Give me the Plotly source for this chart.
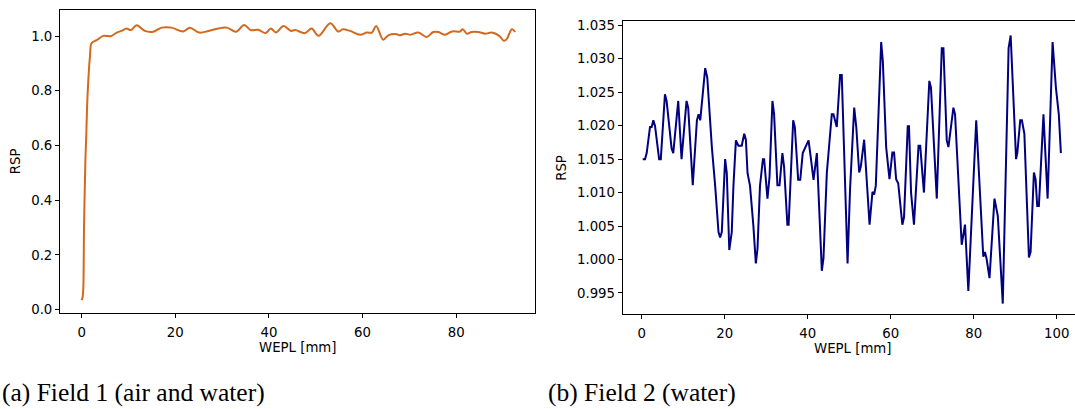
import plotly.graph_objects as go

# Field 1 (air and water)
wepl1 = [0.0, 0.2, 0.35, 0.5, 0.8, 0.95, 1.2, 1.56, 1.77, 2.13, 3.2, 4.6, 5.7, 6.3, 7.5, 8.5, 9.6, 10.5,
         11.75, 13.5, 15.3, 17.1, 19.2, 21.7, 23.1, 25.1, 27.1, 29.2, 31.0, 33.0, 34.7, 36.1, 37.7,
         39.3, 40.4, 41.5, 43.1, 44.7, 45.6, 47.7, 49.1, 50.6, 53.1, 54.8, 55.8, 57.3, 59.5, 60.9,
         62.0, 62.9, 64.4, 65.5, 67.3, 68.0, 69.1, 70.2, 71.9, 73.7, 75.1, 76.2, 77.6, 79.1, 80.8,
         81.4, 82.3, 83.3, 84.7, 86.2, 87.6, 89.2, 90.2, 90.8, 91.9, 92.6]
rsp1 = [0.035, 0.045, 0.08, 0.30, 0.55, 0.62, 0.76, 0.88, 0.925, 0.975, 0.985, 1.001, 1.0, 1.0, 1.013,
        1.019, 1.028, 1.022, 1.040, 1.019, 1.016, 1.031, 1.031, 1.017, 1.031, 1.013, 1.019, 1.028,
        1.031, 1.016, 1.041, 1.022, 1.023, 1.011, 1.028, 1.013, 1.037, 1.019, 1.022, 1.011, 1.028,
        1.001, 1.047, 1.017, 1.025, 1.019, 1.005, 1.013, 1.013, 1.037, 0.987, 1.003, 1.007, 1.003,
        1.009, 1.005, 1.013, 0.997, 1.015, 1.015, 1.005, 1.017, 1.017, 1.025, 1.009, 1.015, 1.015,
        1.009, 1.013, 1.001, 0.983, 0.989, 1.025, 1.015]

# Field 2 (water)
wepl2 = [0.24, 0.8, 1.2, 2.0, 2.4, 2.8, 3.2, 4.2, 4.6, 5.6, 6.0, 7.2, 7.6, 8.8, 9.6, 10.8, 11.2, 12.3,
         13.3, 13.7, 14.1, 15.3, 15.8, 16.9, 17.7, 18.5, 18.9, 19.3, 20.1, 20.5, 21.1, 21.7, 22.1,
         22.7, 23.3, 24.1, 24.7, 25.1, 25.5, 26.1, 26.9, 27.5, 27.9, 28.5, 29.2, 29.5, 30.3, 30.8,
         31.5, 31.9, 32.7, 33.2, 33.9, 34.3, 35.1, 35.4, 36.5, 36.9, 37.7, 38.2, 38.8, 39.5, 40.2,
         40.7, 41.4, 42.2, 43.4, 43.8, 44.6, 45.2, 45.8, 46.2, 47.0, 47.8, 48.2, 49.6, 50.2, 51.2,
         51.7, 52.4, 52.8, 53.6, 54.1, 54.9, 55.6, 56.0, 56.4, 57.7, 58.1, 58.9, 59.7, 60.4, 60.8,
         61.3, 61.8, 62.8, 63.2, 64.1, 64.4, 64.9, 65.6, 66.7, 67.1, 68.0, 69.3, 69.7, 71.1, 72.3,
         72.7, 73.5, 73.9, 75.1, 75.5, 77.1, 77.9, 78.7, 80.6, 82.3, 82.7, 83.1, 83.8, 85.0, 85.8,
         87.0, 88.4, 88.9, 90.2, 90.5, 91.2, 91.6, 92.2, 93.3, 93.7, 94.5, 94.9, 95.3, 95.7, 96.8,
         97.8, 99.0, 99.8, 100.5, 101.0]
rsp2 = [1.015, 1.015, 1.0159, 1.0198, 1.0198, 1.0208, 1.020, 1.015, 1.015, 1.0247, 1.0237, 1.0166,
        1.0159, 1.0237, 1.015, 1.0237, 1.0227, 1.0111, 1.0208, 1.0217, 1.0208, 1.0286, 1.0272,
        1.0168, 1.011, 1.0041, 1.0033, 1.0041, 1.015, 1.0129, 1.0014, 1.0041, 1.011, 1.0178, 1.017,
        1.017, 1.0188, 1.0179, 1.0129, 1.011, 1.0051, 0.9994, 1.0016, 1.011, 1.015, 1.015, 1.0091,
        1.0124, 1.0237, 1.0217, 1.0111, 1.0111, 1.0159, 1.0139, 1.0052, 1.0052, 1.0208, 1.0198,
        1.0119, 1.0119, 1.0159, 1.0168, 1.0178, 1.0154, 1.0119, 1.0159, 0.9983, 1.0002, 1.0129,
        1.0173, 1.0217, 1.0217, 1.0198, 1.0276, 1.0276, 0.9994, 1.0105, 1.0227, 1.0198, 1.013,
        1.0139, 1.0179, 1.0124, 1.0052, 1.0101, 1.0097, 1.011, 1.0325, 1.0296, 1.0168, 1.012,
        1.016, 1.016, 1.012, 1.0114, 1.0052, 1.0063, 1.0199, 1.0199, 1.01, 1.0052, 1.017, 1.017,
        1.01, 1.0267, 1.0257, 1.0091, 1.0316, 1.0316, 1.0178, 1.0168, 1.0227, 1.0217, 1.0022,
        1.0052, 0.9953, 1.0208, 1.0004, 1.0011, 1.0001, 0.9972, 1.0091, 1.0065, 0.9934, 1.0316,
        1.0335, 1.015, 1.0159, 1.0208, 1.0208, 1.0188, 1.0003, 1.0011, 1.013, 1.012, 1.008, 1.008,
        1.0217, 1.0091, 1.0325, 1.0257, 1.0217, 1.0159]

x_title = "WEPL [mm]"
y_title = "RSP"
captions = ["(a) Field 1 (air and water)", "(b) Field 2 (water)"]

W, H = 1075, 409
tickfont = dict(family="DejaVu Sans", size=13.3, color="black")

fig = go.Figure()
fig.add_trace(go.Scatter(x=wepl1, y=rsp1, mode="lines", line=dict(color="#D2691E", width=2),
                         line_shape="spline", xaxis="x", yaxis="y", showlegend=False))
fig.add_trace(go.Scatter(x=wepl2, y=rsp2, mode="lines", line=dict(color="#000080", width=2),
                         xaxis="x2", yaxis="y2", showlegend=False))

def px_x(p):
    return p / W

def px_y(p):
    return 1 - p / H

common = dict(showgrid=False, zeroline=False, showline=True, linecolor="black", linewidth=1,
              ticks="outside", ticklen=4, tickwidth=1, tickcolor="black", tickfont=tickfont)

fig.update_layout(
    width=W, height=H, margin=dict(l=0, r=0, t=0, b=0),
    paper_bgcolor="white", plot_bgcolor="white",
    xaxis=dict(domain=[px_x(60), px_x(535.3)], range=[-4.63, 96.9], tickvals=[0, 20, 40, 60, 80],
               mirror=True, anchor="y", ticklabelstandoff=3, **common),
    yaxis=dict(domain=[px_y(315.3), px_y(6.7)], range=[-0.012, 1.097],
               tickvals=[0.0, 0.2, 0.4, 0.6, 0.8, 1.0], tickformat=".1f", mirror=True, anchor="x", **common),
    xaxis2=dict(domain=[px_x(622.7), 1.0], range=[-4.58, 104.4], tickvals=[0, 20, 40, 60, 80, 100],
                mirror=True, anchor="y2", ticklabelstandoff=3, **common),
    yaxis2=dict(domain=[px_y(316.7), px_y(18.7)], range=[0.9918, 1.0356],
                tickvals=[0.995, 1.0, 1.005, 1.01, 1.015, 1.02, 1.025, 1.03, 1.035], tickformat=".3f",
                mirror=False, anchor="x2", **common),
)

labfont = dict(family="DejaVu Sans", size=13.3, color="black")
capfont = dict(family="Liberation Serif", size=25.5, color="black")
ann = [
    dict(text=x_title, x=px_x((60 + 535.3) / 2), y=px_y(351), xref="paper", yref="paper",
         showarrow=False, font=labfont, xanchor="center", yanchor="middle"),
    dict(text=x_title, x=px_x(852), y=px_y(352), xref="paper", yref="paper",
         showarrow=False, font=labfont, xanchor="center", yanchor="middle"),
    dict(text=y_title, x=px_x(15), y=px_y(161), xref="paper", yref="paper", textangle=-90,
         showarrow=False, font=labfont, xanchor="center", yanchor="middle"),
    dict(text=y_title, x=px_x(562), y=px_y(167.7), xref="paper", yref="paper", textangle=-90,
         showarrow=False, font=labfont, xanchor="center", yanchor="middle"),
    dict(text=captions[0], x=px_x(0), y=px_y(396), xref="paper", yref="paper",
         showarrow=False, font=capfont, xanchor="left", yanchor="middle"),
    dict(text=captions[1], x=px_x(546), y=px_y(396), xref="paper", yref="paper",
         showarrow=False, font=capfont, xanchor="left", yanchor="middle"),
]
fig.update_layout(annotations=ann)

fig.write_html("out.html")
